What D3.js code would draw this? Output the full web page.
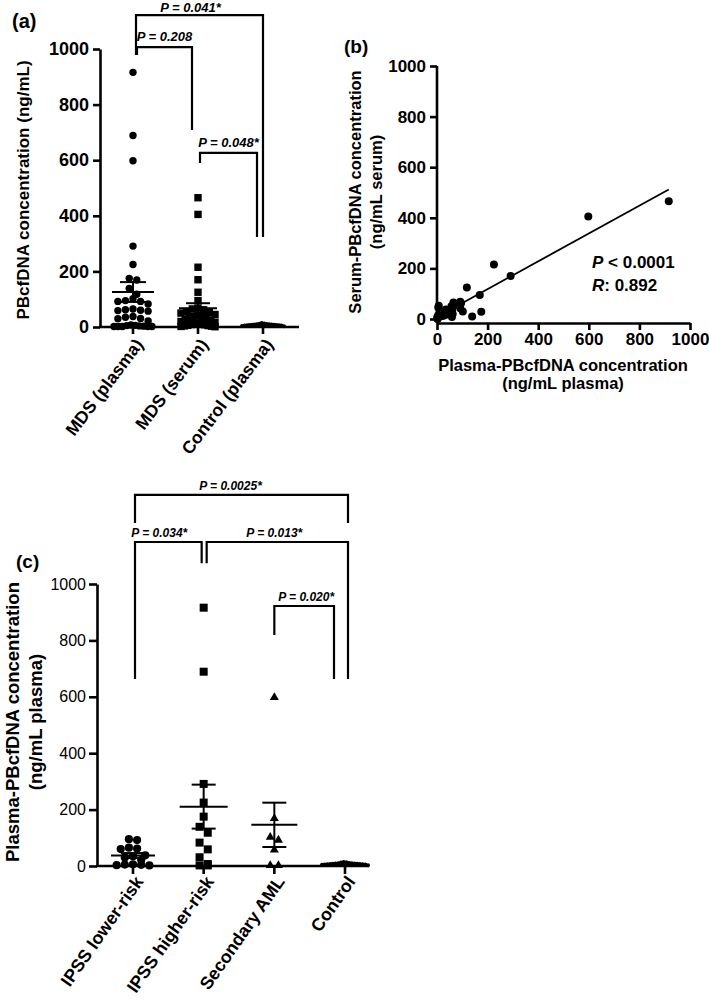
<!DOCTYPE html>
<html><head><meta charset="utf-8">
<script src="https://cdn.jsdelivr.net/npm/d3@7"></script>
<style>
body{margin:0;background:#fff}
svg{display:block}
text{font-family:"Liberation Sans",Arial,Helvetica,sans-serif;fill:#000}
</style>
</head><body>
<svg id="chart" width="709" height="1002"></svg>
<script>
// ---------------- DATA ----------------
const catsA = ["MDS (plasma)", "MDS (serum)", "Control (plasma)"];
const catsC = ["IPSS lower-risk", "IPSS higher-risk", "Secondary AML", "Control"];
const yTicks = [0, 200, 400, 600, 800, 1000];

const lowerRisk = [95, 92, 65, 62, 60, 38, 35, 30, 22, 6, 5, 4, 3, 2];
const higherRisk = [916, 689, 291, 225, 175, 139, 118, 83, 59, 31, 7, 2, 2];
const secondaryAML = [598, 169, 102, 92, 57, 2, 2];
const controlPlasma = [3, 4, 5, 5, 6, 6, 7, 7, 8, 8, 9, 9, 10, 10, 11, 12, 13, 14];

// paired samples (panel b): plasma vs serum
const pairPlasma = [916, 598, 291, 225, 175, 169, 139, 118, 102, 95, 92, 92, 83, 65, 62, 60, 59, 57, 38, 35, 31, 30, 22, 7, 6, 5, 4, 3, 2, 2, 2, 2, 2];
const pairSerum  = [465, 405, 170, 215, 29, 95, 10, 125, 30, 62, 68, 42, 55, 65, 20, 35, 8, 50, 25, 38, 15, 28, 12, 52, 17, 45, 5, 3, 6, 2, 9, 4, 1];

const mdsPlasma = lowerRisk.concat(higherRisk, secondaryAML);
const mdsSerum = pairSerum;

const regSlope = 0.55, regIntercept = 8;   // fitted line
const statP = "< 0.0001", statR = ": 0.892";

// brackets: [left category, right category, top value, left leg end, right leg end, label]
const bracketsA = [
  [0, 2, 1122, 978, 324, "P = 0.041*"],
  [0, 1, 1007, 978, 709, "P = 0.208"],
  [1, 2, 626, 590, 324, "P = 0.048*"]
];
const bracketsC = [
  [0, 3, 1316, 1216, 1216, "P = 0.0025*"],
  [0, 1, 1149, 663, 1074, "P = 0.034*"],
  [1, 3, 1149, 1074, 663, "P = 0.013*"],
  [2, 3, 922, 819, 663, "P = 0.020*"]
];

// ---------------- DRAW ----------------
const svg = d3.select("#chart");
const FONT = '"Liberation Sans",Arial,Helvetica,sans-serif';
const fmt = d3.format("d");

// GraphPad-like row scatter: points grouped into rows, spread horizontally within a max width
function rowScatter(values, y, cx, d, maxHalf) {
  const pts = values.map(v => ({v, y: y(v)})).sort((a, b) => a.y - b.y);
  const groups = [];
  let cur = null;
  pts.forEach(p => {
    if (cur && p.y - cur[0].y < d) cur.push(p);
    else { cur = [p]; groups.push(cur); }
  });
  groups.forEach(gr => {
    const n = gr.length;
    const sp = n > 1 ? Math.min(d * 1.05, 2 * maxHalf / (n - 1)) : 0;
    const order = gr.slice().sort((a, b) => b.v - a.v);
    const slots = d3.range(n).map(j => cx + (j - (n - 1) / 2) * sp);
    const centerOut = slots.slice().sort((a, b) => Math.abs(a - cx) - Math.abs(b - cx) || a - b);
    order.forEach((p, j) => { p.x = centerOut[j]; });
  });
  return pts;
}

function drawMarks(g, pts, shape, size) {
  pts.forEach(p => {
    if (shape === "circle") {
      g.append("circle").attr("cx", p.x).attr("cy", p.y).attr("r", size / 2).attr("fill", "#000");
    } else if (shape === "square") {
      g.append("rect").attr("x", p.x - size / 2).attr("y", p.y - size / 2)
        .attr("width", size).attr("height", size).attr("fill", "#000");
    } else if (shape === "triangle") {
      g.append("path").attr("d", d3.symbol(d3.symbolTriangle, size * size * 0.55)())
        .attr("transform", `translate(${p.x},${p.y})`).attr("fill", "#000");
    }
  });
}

function meanSem(g, values, y, cx, halfMean, halfCap) {
  const m = d3.mean(values), s = d3.deviation(values) / Math.sqrt(values.length);
  g.append("line").attr("x1", cx).attr("x2", cx).attr("y1", y(m + s)).attr("y2", y(m - s))
    .attr("stroke", "#000").attr("stroke-width", 2);
  g.append("line").attr("x1", cx - halfMean).attr("x2", cx + halfMean).attr("y1", y(m)).attr("y2", y(m))
    .attr("stroke", "#000").attr("stroke-width", 2);
  [m + s, m - s].forEach(v => g.append("line").attr("x1", cx - halfCap).attr("x2", cx + halfCap)
    .attr("y1", y(v)).attr("y2", y(v)).attr("stroke", "#000").attr("stroke-width", 2));
}

function pText(g, x, y, str, size) {
  g.append("text").attr("x", x).attr("y", y).attr("text-anchor", "middle")
    .style("font-size", size + "px").style("font-weight", "bold").style("font-style", "italic")
    .text(str);
}

function brackets(g, list, x, y, offs, textOffs, fs, gaps) {
  list.forEach((b, i) => {
    const x1 = x(b[0]) + offs[i][0], x2 = x(b[1]) + offs[i][1];
    const yt = y(b[2]);
    g.append("path")
      .attr("d", `M${x1},${y(b[3])}V${yt}H${x2}V${y(b[4])}`)
      .attr("fill", "none").attr("stroke", "#000").attr("stroke-width", 2.2);
    pText(g, (x1 + x2) / 2 + textOffs[i], yt - gaps[i], b[5], fs);
  });
}

// ===== Panel (a) =====
{
  const g = svg.append("g");
  const y = d3.scaleLinear().domain([0, 1000]).range([327, 49]);
  const xp = d3.scalePoint().domain(d3.range(catsA.length)).range([133, 263]);
  const yAxis = d3.axisLeft(y).tickValues(yTicks).tickFormat(fmt).tickSize(7).tickSizeOuter(0).tickPadding(4);
  const ga = g.append("g").attr("transform", "translate(100,0)").call(yAxis);
  ga.selectAll("path,line").attr("stroke", "#000").attr("stroke-width", 2.6);
  ga.selectAll("text").style("font-size", "18px").style("font-weight", "bold").attr("font-family", FONT);
  g.append("line").attr("x1", 99).attr("x2", 299).attr("y1", 327).attr("y2", 327).attr("stroke", "#000").attr("stroke-width", 2.6);
  catsA.forEach((c, i) => {
    g.append("line").attr("x1", xp(i)).attr("x2", xp(i)).attr("y1", 327).attr("y2", 334).attr("stroke", "#000").attr("stroke-width", 2.6);
    g.append("text").attr("transform", `translate(${xp(i) + 6},${341}) rotate(-53)`)
      .attr("text-anchor", "end").attr("dy", "0.35em")
      .style("font-size", "17.5px").style("font-weight", "bold").text(c);
  });
  g.append("text").attr("transform", `translate(29,190) rotate(-90)`).attr("text-anchor", "middle")
    .style("font-size", "17px").style("font-weight", "bold").text("PBcfDNA concentration (ng/mL)");
  g.append("text").attr("x", 12).attr("y", 28).style("font-size", "20px").style("font-weight", "bold").text("(a)");

  drawMarks(g, rowScatter(mdsPlasma, y, xp(0), 7.2, 19), "circle", 7.4);
  drawMarks(g, rowScatter(mdsSerum, y, xp(1), 7.2, 17), "square", 7.4);
  drawMarks(g, rowScatter(controlPlasma, y, xp(2), 4, 21), "circle", 4);
  meanSem(g, mdsPlasma, y, xp(0), 21, 13);
  meanSem(g, mdsSerum, y, xp(1), 19, 12);
  meanSem(g, controlPlasma, y, xp(2), 12, 6);
  brackets(g, bracketsA, xp, y, [[3, 0], [4, -6], [2, -6]], [-9, 0, 0], 13, [3.5, 6, 6]);
}

// ===== Panel (b) =====
{
  const g = svg.append("g");
  const x = d3.scaleLinear().domain([0, 1000]).range([437, 690]);
  const y = d3.scaleLinear().domain([0, 1000]).range([319, 66]);
  const gy = g.append("g").attr("transform", "translate(437,0)")
    .call(d3.axisLeft(y).tickValues(yTicks).tickFormat(fmt).tickSize(7).tickSizeOuter(0).tickPadding(4));
  gy.select(".domain").attr("d", `M0,${y(1000)}V323`);
  const gx = g.append("g").attr("transform", "translate(0,323)")
    .call(d3.axisBottom(x).tickValues(yTicks).tickFormat(fmt).tickSize(7).tickSizeOuter(0).tickPadding(3));
  [gy, gx].forEach(a => {
    a.selectAll("path,line").attr("stroke", "#000").attr("stroke-width", 2.6);
    a.selectAll("text").style("font-size", "17px").style("font-weight", "bold").attr("font-family", FONT);
  });
  g.append("text").attr("x", 563).attr("y", 371).attr("text-anchor", "middle")
    .style("font-size", "16.5px").style("font-weight", "bold").text("Plasma-PBcfDNA concentration");
  g.append("text").attr("x", 563).attr("y", 389).attr("text-anchor", "middle")
    .style("font-size", "16.5px").style("font-weight", "bold").text("(ng/mL plasma)");
  g.append("text").attr("transform", "translate(361,192) rotate(-90)").attr("text-anchor", "middle")
    .style("font-size", "16.5px").style("font-weight", "bold").text("Serum-PBcfDNA concentration");
  g.append("text").attr("transform", "translate(382,192) rotate(-90)").attr("text-anchor", "middle")
    .style("font-size", "16.5px").style("font-weight", "bold").text("(ng/mL serum)");
  g.append("text").attr("x", 344).attr("y", 53).style("font-size", "19px").style("font-weight", "bold").text("(b)");

  const x0 = d3.min(pairPlasma), x1 = d3.max(pairPlasma);
  g.append("line").attr("x1", x(x0)).attr("x2", x(x1))
    .attr("y1", y(regSlope * x0 + regIntercept)).attr("y2", y(regSlope * x1 + regIntercept))
    .attr("stroke", "#000").attr("stroke-width", 1.8);
  g.selectAll("circle.pt").data(pairPlasma).join("circle").attr("class", "pt")
    .attr("cx", d => x(d)).attr("cy", (d, i) => y(pairSerum[i])).attr("r", 4).attr("fill", "#000");

  const t1 = g.append("text").attr("x", 592).attr("y", 268).style("font-size", "17px").style("font-weight", "bold");
  t1.append("tspan").style("font-style", "italic").text("P");
  t1.append("tspan").text(" " + statP);
  const t2 = g.append("text").attr("x", 592).attr("y", 291).style("font-size", "17px").style("font-weight", "bold");
  t2.append("tspan").style("font-style", "italic").text("R");
  t2.append("tspan").text(statR);
}

// ===== Panel (c) =====
{
  const g = svg.append("g");
  const y = d3.scaleLinear().domain([0, 1000]).range([866, 584]);
  const xp = d3.scalePoint().domain(d3.range(catsC.length)).range([133, 345]);
  const ga = g.append("g").attr("transform", "translate(97,0)")
    .call(d3.axisLeft(y).tickValues(yTicks).tickFormat(fmt).tickSize(8).tickSizeOuter(0).tickPadding(3));
  ga.selectAll("path,line").attr("stroke", "#000").attr("stroke-width", 2.6);
  ga.selectAll("text").style("font-size", "16px").attr("font-family", FONT);
  g.append("line").attr("x1", 96).attr("x2", 369).attr("y1", 866).attr("y2", 866).attr("stroke", "#000").attr("stroke-width", 2.6);
  catsC.forEach((c, i) => {
    g.append("line").attr("x1", xp(i)).attr("x2", xp(i)).attr("y1", 866).attr("y2", 874).attr("stroke", "#000").attr("stroke-width", 2.6);
    g.append("text").attr("transform", `translate(${xp(i) + 6},${878}) rotate(-55)`)
      .attr("text-anchor", "end").attr("dy", "0.35em")
      .style("font-size", "17.8px").style("font-weight", "bold").text(c);
  });
  g.append("text").attr("transform", "translate(19,722) rotate(-90)").attr("text-anchor", "middle")
    .style("font-size", "18.5px").style("font-weight", "bold").text("Plasma-PBcfDNA concentration");
  g.append("text").attr("transform", "translate(42,722) rotate(-90)").attr("text-anchor", "middle")
    .style("font-size", "18.5px").style("font-weight", "bold").text("(ng/mL plasma)");
  g.append("text").attr("x", 16).attr("y", 568).style("font-size", "19px").style("font-weight", "bold").text("(c)");

  drawMarks(g, rowScatter(lowerRisk, y, xp(0), 7.8, 19), "circle", 8.2);
  drawMarks(g, rowScatter(higherRisk, y, xp(1), 7.8, 20), "square", 8);
  drawMarks(g, rowScatter(secondaryAML, y, xp(2), 7.8, 16), "triangle", 8);
  drawMarks(g, rowScatter(controlPlasma, y, xp(3), 4, 23), "circle", 4);
  meanSem(g, lowerRisk, y, xp(0), 22, 12);
  meanSem(g, higherRisk, y, xp(1), 24, 12);
  meanSem(g, secondaryAML, y, xp(2), 23, 12);
  meanSem(g, controlPlasma, y, xp(3), 12, 6);
  brackets(g, bracketsC, xp, y, [[2, 3], [2, -2], [3, 3], [0, -11]], [-11, -9, -3, 2], 12, [5, 5, 5, 5]);
}
</script>
</body></html>
